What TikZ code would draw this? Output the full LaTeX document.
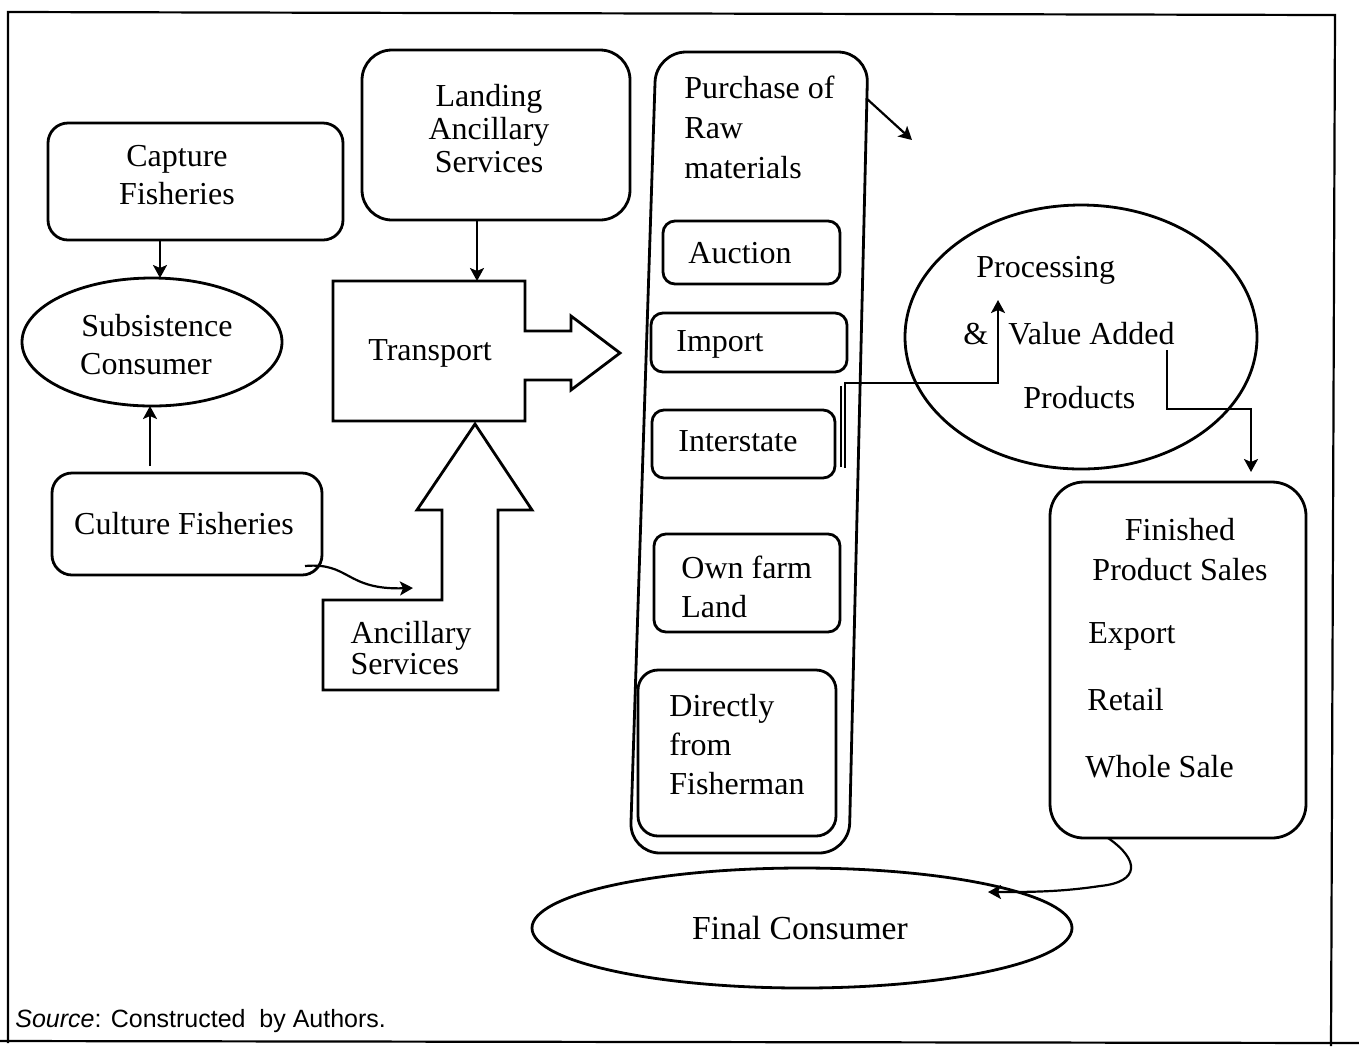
\documentclass[tikz,border=0pt]{standalone}
\usepackage{fontspec}
\setmainfont{Liberation Serif}
\newfontfamily\srcfont{Liberation Sans}
\usetikzlibrary{arrows.meta,shapes.geometric}
\begin{document}
\begin{tikzpicture}[x=0.5pt,y=-0.5pt,
  line width=1.4pt,
  txt/.style={font=\fontsize{16}{19}\selectfont, inner sep=0pt},
  rbox/.style={draw, rounded corners=10pt, inner sep=0pt, font=\fontsize{16}{19}\selectfont},
  sbox/.style={draw, rounded corners=6pt, inner sep=0pt, font=\fontsize{16}{19}\selectfont},
  oval/.style={draw, ellipse, inner sep=0pt, font=\fontsize{16}{19}\selectfont},
  arr/.style={-{Stealth[length=6.5pt,width=7pt,inset=1.5pt]}, line width=1.1pt},
  frame/.style={line width=1.1pt}
]
\useasboundingbox (0,0) rectangle (1359,1046);
% frame
\draw[frame] (8,1043) -- (8,12) -- (1335,15) -- (1331,1046);
\draw[frame] (0,1041) -- (1359,1043);

% Capture Fisheries
\node[rbox, minimum width=147.5pt, minimum height=58.5pt] (capture) at (195.5,181.5) {};
\node[txt, align=center] (captureT) at (177,175) {Capture\\Fisheries};
% Landing Ancillary Services
\node[rbox, rounded corners=15pt, minimum width=134pt, minimum height=85pt] (landing) at (496,135) {};
\node[txt, align=center, font=\fontsize{16}{16.5}\selectfont] (landingT) at (489,129) {Landing\\Ancillary\\Services};
% Subsistence consumer
\node[oval, minimum width=130pt, minimum height=64pt] (subs) at (152,342) {};
\node[txt] (subsA) at (157,326) {Subsistence};
\node[txt] (subsB) at (146,364) {Consumer};
% Culture Fisheries
\node[rbox, minimum width=135pt, minimum height=51pt] (culture) at (187,524) {};
\node[txt] (cultureT) at (184,524) {Culture Fisheries};

% Transport shape
\draw (333,281) -- (525,281) -- (525,331) -- (571,331) -- (571,316) -- (620,353)
  -- (571,390) -- (571,380) -- (525,380) -- (525,421) -- (333,421) -- cycle;
\node[txt] (transport) at (430,353) {Transport};
\coordinate (transtop) at (477,281);
% Ancillary services up-arrow shape
\draw (323,600) -- (442,600) -- (442,510) -- (417,510) -- (475,424) -- (532,510)
  -- (498,510) -- (498,690) -- (323,690) -- cycle;
\node[txt, align=left, font=\fontsize{16}{15.5}\selectfont] (ancillary) at (411,648) {Ancillary\\Services};
\coordinate (ancin) at (413,588);

% Purchase column
\draw[rounded corners=15pt] (656,52) -- (868,52) -- (849,853) -- (630,853) -- cycle;
\node[txt, align=left, font=\fontsize{16}{20}\selectfont, anchor=north west] (purchase) at (683,75) {Purchase of\\Raw\\materials};
\node[sbox, minimum width=88.5pt, minimum height=31.5pt] (auction) at (751.5,252.5) {};
\node[txt] (auctionT) at (740,253) {Auction};
\node[sbox, minimum width=98pt, minimum height=29.5pt] (import) at (749,342.5) {};
\node[txt, anchor=west] (importT) at (675,344) {Import};
\node[sbox, minimum width=91.5pt, minimum height=34pt] (interstate) at (743.5,444) {};
\node[txt, anchor=west] (interT) at (677,441) {Interstate};
\node[sbox, minimum width=93pt, minimum height=49pt] (ownfarm) at (747,583) {};
\node[txt, anchor=north west, align=left, font=\fontsize{16}{19.5}\selectfont] (ownT) at (680,555) {Own farm\\Land};
\node[rbox, minimum width=99pt, minimum height=83pt] (direct) at (737,753) {};
\node[txt, anchor=north west, align=left, font=\fontsize{16}{19.5}\selectfont] (directT) at (668,693) {Directly\\from\\Fisherman};

\coordinate (colcorner) at (866,98);
\coordinate (diagend) at (912,140);

% Processing
\node[oval, minimum width=176pt, minimum height=132pt] (proc) at (1081,337) {};
\node[txt, anchor=west] (procA) at (975,270) {Processing};
\node[txt, anchor=west] (procB) at (962,334) {\&};
\node[txt, anchor=west] (procC) at (1007,334) {Value Added};
\node[txt, anchor=west] (procD) at (1022,398) {Products};
\coordinate (c1) at (845,468);
\coordinate (c2) at (845,383);
\coordinate (c3) at (998,383);
\coordinate (c4) at (998,300);
\coordinate (p1) at (1167,350);
\coordinate (p2) at (1167,409);
\coordinate (p3) at (1251,409);
\coordinate (p4) at (1251,472);

% Finished product sales
\node[rbox, rounded corners=17pt, minimum width=128pt, minimum height=178pt] (finished) at (1178,660) {};
\node[txt, align=center, font=\fontsize{16}{20}\selectfont] (finA) at (1180,550) {Finished\\Product Sales};
\node[txt, anchor=west] (finB) at (1087,636) {Export};
\node[txt, anchor=west] (finC) at (1086,700) {Retail};
\node[txt, anchor=west] (finD) at (1084,767) {Whole Sale};
\coordinate (f1) at (1108,838);

% Final consumer
\node[oval, minimum width=270pt, minimum height=60pt] (final) at (802,928) {};
\node[txt, font=\fontsize{16.8}{19}\selectfont] (finalT) at (800,928) {Final Consumer};
\coordinate (fin_in) at (988,892);

% Source
\node[anchor=base west, inner sep=0pt, font=\srcfont\fontsize{12.5}{14}\selectfont] (source) at (14,1027) {\textit{Source}: Constructed\ \ by Authors.};

% connectors
\draw[arr] (capture.south -| 160,0) -- (160,278);
\draw[arr] (150,466) -- (150,406);
\draw[arr] (landing.south -| transtop) -- (transtop);
\draw[arr] (305,566) .. controls (350,562) and (345,590) .. (ancin);
\draw[arr] (colcorner) -- (diagend);
\draw[arr] (c1) -- (c2) -- (c3) -- (c4);
\draw[line width=0.8pt] (841,467) -- (841,386);
\draw[arr] (p1) -- (p2) -- (p3) -- (p4);
\draw[arr] (f1) .. controls (1140,860) and (1140,882) .. (1100,886) .. controls (1060,892) and (1030,892) .. (fin_in);
\end{tikzpicture}
\end{document}
